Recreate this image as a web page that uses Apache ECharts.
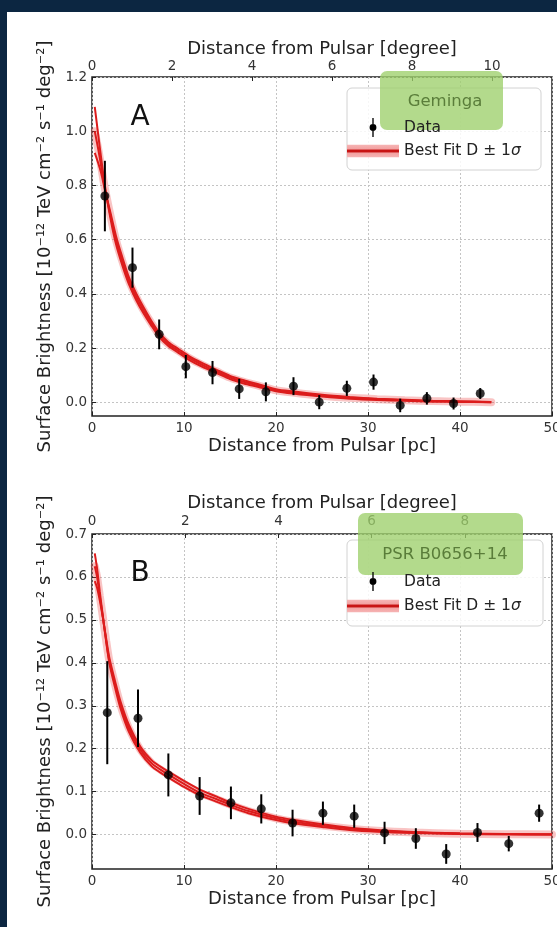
<!DOCTYPE html>
<html><head><meta charset="utf-8">
<script src="https://cdn.jsdelivr.net/npm/echarts@6/dist/echarts.min.js"></script>
<style>
html,body{margin:0;padding:0;background:#0c2641;width:557px;height:927px;overflow:hidden;}
#paper{position:absolute;left:7px;top:12px;right:0;bottom:0;background:#fff;}
#chart{position:absolute;left:0;top:0;width:557px;height:927px;}
</style></head><body><div id="paper"></div><div id="chart"></div>
<script>
// ---------- Data ----------
const pcTicks = [0, 10, 20, 30, 40, 50];
const degTicks = [0, 2, 4, 6, 8, 10];
const yTicksA = [0.0, 0.2, 0.4, 0.6, 0.8, 1.0, 1.2];
const yTicksB = [0.0, 0.1, 0.2, 0.3, 0.4, 0.5, 0.6, 0.7];

// Panel A: Geminga
const distA = [1.4, 4.4, 7.3, 10.2, 13.1, 16.0, 18.9, 21.9, 24.7, 27.7, 30.6, 33.5, 36.4, 39.3, 42.2];
const valA  = [0.761, 0.497, 0.251, 0.132, 0.110, 0.050, 0.039, 0.060, 0.001, 0.052, 0.075, -0.011, 0.015, -0.004, 0.033];
const errA  = [0.13, 0.074, 0.055, 0.043, 0.043, 0.037, 0.035, 0.033, 0.026, 0.028, 0.028, 0.025, 0.023, 0.022, 0.020];
const fitXA       = [0.3, 0.7, 1.0, 1.4, 2.0, 2.6, 3.3, 4.0, 4.8, 5.6, 6.4, 7.3, 8.3, 9.4, 10.5, 12, 13.5, 15, 16.5, 18, 20, 22, 25, 28, 31, 34, 37, 40, 43.4];
const fitMidA     = [1.00, 0.93, 0.87, 0.79, 0.69, 0.60, 0.52, 0.45, 0.39, 0.34, 0.295, 0.25, 0.215, 0.19, 0.165, 0.138, 0.115, 0.092, 0.076, 0.063, 0.045, 0.036, 0.025, 0.017, 0.012, 0.008, 0.005, 0.003, 0.001];
const fitSteepA   = [1.09, 0.98, 0.90, 0.80, 0.68, 0.585, 0.505, 0.437, 0.378, 0.329, 0.286, 0.242, 0.208, 0.183, 0.158, 0.131, 0.109, 0.086, 0.070, 0.058, 0.041, 0.032, 0.022, 0.014, 0.009, 0.006, 0.003, 0.002, 0.001];
const fitShallowA = [0.92, 0.88, 0.845, 0.785, 0.70, 0.615, 0.535, 0.463, 0.402, 0.351, 0.304, 0.258, 0.222, 0.197, 0.172, 0.145, 0.121, 0.098, 0.082, 0.068, 0.049, 0.040, 0.028, 0.020, 0.014, 0.010, 0.006, 0.004, 0.002];

// Panel B: PSR B0656+14
const distB = [1.66, 5.0, 8.3, 11.7, 15.1, 18.4, 21.8, 25.1, 28.5, 31.8, 35.2, 38.5, 41.9, 45.3, 48.6];
const valB  = [0.284, 0.271, 0.139, 0.090, 0.074, 0.060, 0.027, 0.050, 0.043, 0.004, -0.009, -0.045, 0.005, -0.021, 0.050];
const errB  = [0.12, 0.067, 0.050, 0.044, 0.038, 0.034, 0.031, 0.027, 0.027, 0.026, 0.024, 0.023, 0.022, 0.018, 0.020];
const fitXB       = [0.3, 0.55, 0.85, 1.2, 1.55, 1.9, 2.5, 3.1, 4.0, 5.25, 6.5, 7.4, 8.3, 10, 11.7, 13.5, 15, 17, 20, 22, 25, 28, 31, 35, 40, 45, 50];
const fitMidB     = [0.625, 0.60, 0.555, 0.504, 0.45, 0.403, 0.35, 0.302, 0.248, 0.198, 0.166, 0.152, 0.140, 0.118, 0.098, 0.083, 0.070, 0.055, 0.038, 0.030, 0.021, 0.014, 0.009, 0.005, 0.002, 0.001, 0.0005];
const fitSteepB   = [0.655, 0.62, 0.565, 0.505, 0.448, 0.398, 0.343, 0.294, 0.240, 0.191, 0.159, 0.145, 0.133, 0.111, 0.092, 0.077, 0.065, 0.050, 0.034, 0.026, 0.018, 0.011, 0.007, 0.004, 0.0015, 0.0008, 0.0003];
const fitShallowB = [0.59, 0.575, 0.545, 0.503, 0.455, 0.41, 0.358, 0.31, 0.256, 0.205, 0.173, 0.159, 0.147, 0.125, 0.105, 0.089, 0.075, 0.060, 0.042, 0.034, 0.024, 0.016, 0.011, 0.006, 0.003, 0.0015, 0.0008];

// ---------- Styling ----------
const FONT = 'DejaVu Sans';
const TXT = '#222';
const FIT_NAME = 'Best Fit D \u00b1 1\u03c3';
const YNAME = 'Surface Brightness [10\u207b\u00b9\u00b2 TeV cm\u207b\u00b2 s\u207b\u00b9 deg\u207b\u00b2]';
const gridLine = {show: true, lineStyle: {color: '#c4c4c4', type: [2, 2], width: 1}};

function pcAxis(gi) {
  return {type: 'value', gridIndex: gi, position: 'bottom', min: pcTicks[0], max: pcTicks[pcTicks.length - 1], interval: 10,
    name: 'Distance from Pulsar [pc]', nameLocation: 'middle', nameGap: 21,
    nameTextStyle: {fontFamily: FONT, fontSize: 18, color: TXT},
    axisLine: {show: false, onZero: false}, axisTick: {show: true, inside: true, length: 4, lineStyle: {color: TXT}},
    axisLabel: {fontFamily: FONT, fontSize: 13.5, color: '#333', margin: 5}, splitLine: gridLine};
}
function degAxis(gi, max, margin, gap) {
  return {type: 'value', gridIndex: gi, position: 'top', min: 0, max: max, interval: 2,
    name: 'Distance from Pulsar [degree]', nameLocation: 'middle', nameGap: gap,
    nameTextStyle: {fontFamily: FONT, fontSize: 18, color: TXT},
    axisLine: {show: false, onZero: false}, axisTick: {show: true, inside: true, length: 4, lineStyle: {color: TXT},
      customValues: degTicks.filter(v => v <= max)},
    axisLabel: {fontFamily: FONT, fontSize: 13.5, color: '#333', margin: margin,
      customValues: degTicks.filter(v => v <= max)},
    splitLine: {show: false}};
}
function yAxis(gi, min, max, ticks) {
  return {type: 'value', gridIndex: gi, min: min, max: max,
    name: YNAME, nameLocation: 'middle', nameGap: 36, nameRotate: 90,
    nameTextStyle: {fontFamily: FONT, fontSize: 18, color: TXT},
    axisLine: {show: false, onZero: false},
    axisTick: {show: true, inside: true, length: 4, lineStyle: {color: TXT}, customValues: ticks},
    axisLabel: {fontFamily: FONT, fontSize: 13.5, color: '#333', margin: 5, customValues: ticks,
      formatter: v => v.toFixed(1)},
    splitLine: gridLine};
}
function zip(xs, ys) { return xs.map((x, i) => [x, ys[i]]); }
function fitSeries(xi, yi, xs, sets) {
  const out = [];
  out.push({type: 'line', name: FIT_NAME, xAxisIndex: xi, yAxisIndex: yi, data: zip(xs, sets[0]),
    smooth: 0.3, showSymbol: false, silent: true, z: 2,
    lineStyle: {color: 'rgba(235,60,60,0.30)', width: 8, cap: 'round'}});
  sets.forEach(s => out.push({type: 'line', name: FIT_NAME, xAxisIndex: xi, yAxisIndex: yi, data: zip(xs, s),
    smooth: 0.3, showSymbol: false, silent: true, z: 3,
    lineStyle: {color: '#dc1c1c', width: 2}}));
  return out;
}
function dataSeries(xi, yi, xs, ys, es) {
  return [{
    type: 'custom', name: 'Data', xAxisIndex: xi, yAxisIndex: yi, z: 5, silent: true,
    data: xs.map((x, i) => [x, ys[i], es[i]]),
    renderItem(params, api) {
      const x = api.value(0), y = api.value(1), e = api.value(2);
      const a = api.coord([x, y + e]), b = api.coord([x, y - e]);
      return {type: 'line', shape: {x1: a[0], y1: a[1], x2: b[0], y2: b[1]}, style: {stroke: '#000', lineWidth: 2}};
    }
  }, {
    type: 'scatter', name: 'Data', xAxisIndex: xi, yAxisIndex: yi, z: 6, silent: true,
    data: zip(xs, ys), symbol: 'circle', symbolSize: 9, itemStyle: {color: '#000'}
  }];
}

const dataIcon = 'path://M4.3,0H5.7V20H4.3Z M1.4,10A3.6,3.6 0 1 1 8.6,10A3.6,3.6 0 1 1 1.4,10Z';
const fitIcon = 'path://M0,0H38V9H0Z';
const fitGrad = {type: 'linear', x: 0, y: 0, x2: 0, y2: 1, colorStops: [
  {offset: 0, color: '#f6b4b4'}, {offset: 0.36, color: '#f2a0a0'}, {offset: 0.4, color: '#c81414'},
  {offset: 0.6, color: '#c81414'}, {offset: 0.64, color: '#f2a0a0'}, {offset: 1, color: '#f6b4b4'}]};
function legend(top, gap) {
  return {left: 347, top: top, orient: 'vertical', itemWidth: 52, itemHeight: 19, itemGap: gap, padding: 0,
    selectedMode: false, z: 10,
    textStyle: {fontFamily: FONT, fontSize: 15.5, color: TXT, rich: {i: {fontFamily: FONT, fontSize: 15.5, fontStyle: 'italic', color: TXT}}},
    formatter: n => n === FIT_NAME ? 'Best Fit D \u00b1 1{i|\u03c3}' : n,
    data: [{name: 'Data', icon: dataIcon, itemStyle: {color: '#000'}},
           {name: FIT_NAME, icon: fitIcon, itemStyle: {color: fitGrad}}]};
}

const option = {
  backgroundColor: 'transparent',
  animation: false,
  grid: [
    {left: 92, top: 77, width: 460, height: 339, show: true, borderColor: TXT, borderWidth: 1.5, backgroundColor: '#fff', outerBoundsMode: 'none', containLabel: false},
    {left: 92, top: 534, width: 460, height: 335, show: true, borderColor: TXT, borderWidth: 1.5, backgroundColor: '#fff', outerBoundsMode: 'none', containLabel: false}
  ],
  xAxis: [pcAxis(0), degAxis(0, 11.5, 4, 19), pcAxis(1), degAxis(1, 9.87, 6, 22)],
  yAxis: [yAxis(0, -0.05, 1.2, yTicksA), yAxis(1, -0.08, 0.7, yTicksB)],
  legend: [legend(118, 6), legend(572, 7)],
  series: [].concat(
    fitSeries(0, 0, fitXA, [fitMidA, fitSteepA, fitShallowA]),
    dataSeries(0, 0, distA, valA, errA),
    fitSeries(2, 1, fitXB, [fitMidB, fitSteepB, fitShallowB]),
    dataSeries(2, 1, distB, valB, errB)
  ),
  graphic: [
    {type: 'rect', z: 6, shape: {x: 347, y: 88, width: 194, height: 82, r: 5}, style: {fill: 'rgba(255,255,255,0.85)', stroke: '#d2d2d2', lineWidth: 1}},
    {type: 'rect', z: 6, shape: {x: 347, y: 540, width: 196, height: 86, r: 5}, style: {fill: 'rgba(255,255,255,0.85)', stroke: '#d2d2d2', lineWidth: 1}},
    {type: 'rect', z: 9, shape: {x: 380, y: 71, width: 123, height: 59, r: 7}, style: {fill: 'rgba(158,208,108,0.78)'}},
    {type: 'rect', z: 9, shape: {x: 358, y: 513, width: 165, height: 62, r: 7}, style: {fill: 'rgba(158,208,108,0.78)'}},
    {type: 'text', z: 11, x: 445, y: 102, style: {text: 'Geminga', font: '16.5px "DejaVu Sans"', fill: '#5a7d3a', align: 'center', verticalAlign: 'middle'}},
    {type: 'text', z: 11, x: 445, y: 555, style: {text: 'PSR B0656+14', font: '16.5px "DejaVu Sans"', fill: '#5a7d3a', align: 'center', verticalAlign: 'middle'}},
    {type: 'text', z: 8, x: 140, y: 118, style: {text: 'A', font: '28px "DejaVu Sans"', fill: '#111', align: 'center', verticalAlign: 'middle'}},
    {type: 'text', z: 8, x: 140, y: 574, style: {text: 'B', font: '28px "DejaVu Sans"', fill: '#111', align: 'center', verticalAlign: 'middle'}}
  ]
};
const chart = echarts.init(document.getElementById('chart'), null, {renderer: 'canvas'});
chart.setOption(option);
</script></body></html>
